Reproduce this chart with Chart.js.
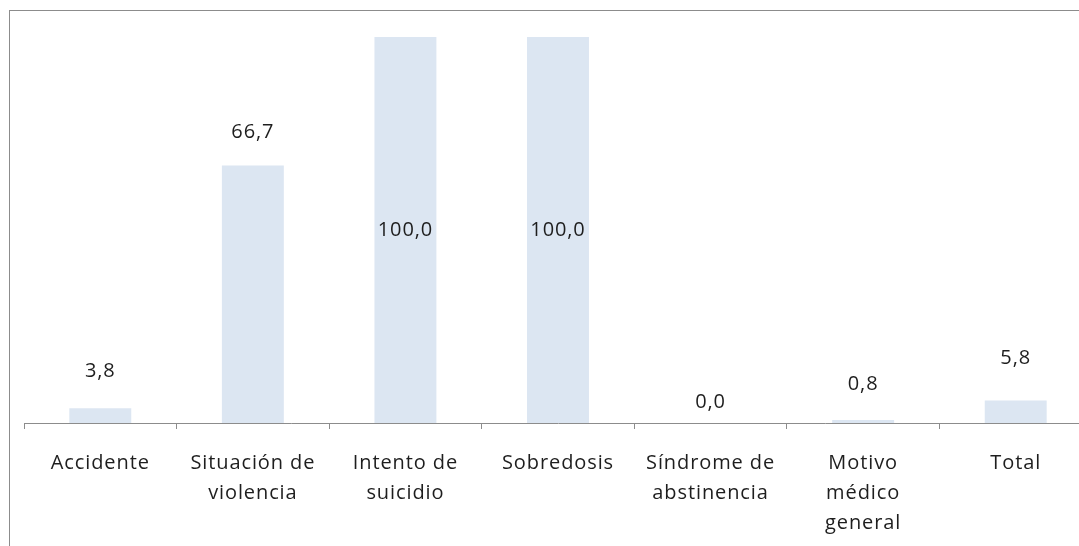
<!DOCTYPE html>
<html>
<head>
<meta charset="utf-8">
<script src="https://cdn.jsdelivr.net/npm/chart.js@4.4.1/dist/chart.umd.min.js"></script>
<style>
  html, body { margin: 0; padding: 0; background: #fff; overflow: hidden; width: 1079px; height: 546px; }
  #frame { position: absolute; left: 9px; top: 10px; width: 1200px; height: 600px;
           border-left: 1px solid #8c8c8c; border-top: 1px solid #8c8c8c; box-sizing: border-box; }
  #c { position: absolute; left: 0; top: 0; }
</style>
</head>
<body>
<div id="frame"></div>
<canvas id="c" width="1100" height="546"></canvas>
<script>
const categories = [
  "Accidente",
  ["Situación de", "violencia"],
  ["Intento de", "suicidio"],
  "Sobredosis",
  ["Síndrome de", "abstinencia"],
  ["Motivo", "médico", "general"],
  "Total"
];
const values = [3.8, 66.7, 100.0, 100.0, 0.0, 0.8, 5.8];
const yMin = 0;
const yMax = 100;

const FONT = '"Open Sans", "DejaVu Sans", sans-serif';
const SPACING = '0.9px';

const labelPlugin = {
  id: 'valueLabels',
  beforeDraw(chart) { chart.ctx.letterSpacing = SPACING; },
  afterDatasetsDraw(chart, args, opts) {
    const ctx = chart.ctx;
    const meta = chart.getDatasetMeta(0);
    ctx.save();
    ctx.letterSpacing = SPACING;
    ctx.font = '20px ' + FONT;
    ctx.fillStyle = '#1e1e1e';
    ctx.textAlign = 'center';
    ctx.textBaseline = 'middle';
    meta.data.forEach((bar, i) => {
      const v = values[i];
      const txt = v.toFixed(1).replace('.', ',');
      let y;
      if (v >= yMax) y = (bar.y + bar.base) / 2;
      else y = bar.y - opts.gaps[i];
      ctx.fillText(txt, bar.x, y);
    });
    ctx.restore();
  }
};

new Chart(document.getElementById('c'), {
  type: 'bar',
  data: {
    labels: categories,
    datasets: [{
      data: values,
      backgroundColor: '#dce6f2',
      borderWidth: 0,
      barPercentage: 0.406,
      categoryPercentage: 1.0
    }]
  },
  options: {
    responsive: false,
    animation: false,
    layout: { padding: { left: 24, right: 8, top: 37, bottom: 0 } },
    plugins: {
      legend: { display: false },
      tooltip: { enabled: false },
      valueLabels: { gaps: [37, 33, 0, 0, 21, 36, 42] }
    },
    scales: {
      x: {
        offset: true,
        grid: { display: true, drawOnChartArea: false, drawTicks: true, tickLength: 6, offset: true, color: '#8c8c8c', lineWidth: 1 },
        border: { display: true, color: '#8c8c8c', width: 1 },
        ticks: {
          font: { family: FONT, size: 20, lineHeight: 1.5 },
          color: '#1e1e1e',
          padding: 19,
          maxRotation: 0,
          autoSkip: false
        },
        afterFit(scale) { scale.height = 123; }
      },
      y: {
        display: false,
        min: yMin,
        max: yMax
      }
    }
  },
  plugins: [labelPlugin]
});
</script>
</body>
</html>
